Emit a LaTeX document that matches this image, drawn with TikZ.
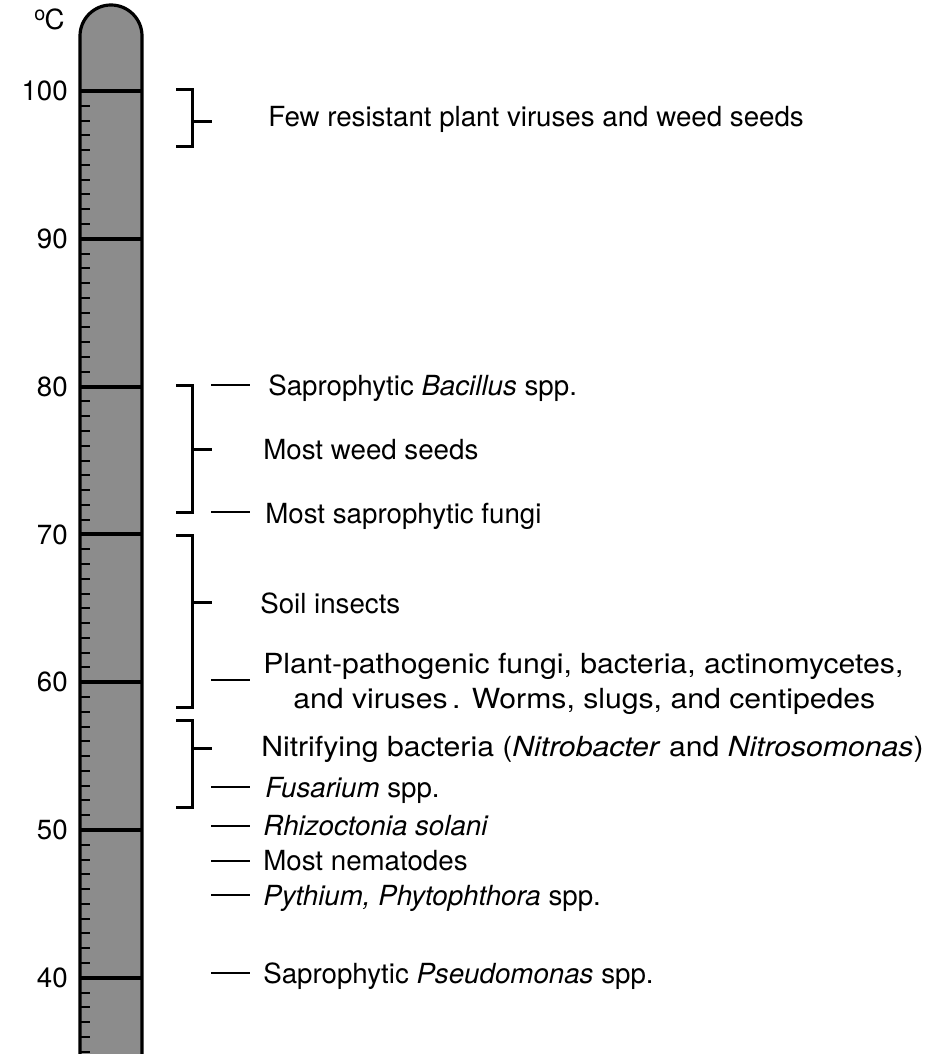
\documentclass[tikz,border=0pt]{standalone}
\usepackage{fontspec}
\setmainfont{TeX Gyre Heros}
\newfontfamily\widefont[FakeStretch=1.09]{TeX Gyre Heros}
\usetikzlibrary{positioning}

\begin{document}
\begin{tikzpicture}[x=0.25mm,y=-0.25mm,
      declare function={ty(\t)=91+(100-\t)*14.78;},
      txt/.style={anchor=base west,inner sep=0pt,font=\fontsize{19.7}{24}\selectfont},
      wtxt/.style={txt,font=\fontsize{19.7}{24}\selectfont\widefont},
      num/.style={anchor=east,inner sep=0pt,font=\fontsize{19.7}{24}\selectfont},
      brk/.style={line width=0.75mm},
      dsh/.style={line width=0.6mm}]
    \useasboundingbox (0,0) rectangle (928,1054);
    % thermometer column
    \fill[black!45] (80,1060) -- (80,36) arc (180:360:31) -- (142,1060) -- cycle;
    \draw[line width=0.8mm] (80,1060) -- (80,36) arc (180:360:31) -- (142,1060);
    \foreach \t in {35,...,99} { \draw[line width=0.5mm] (80,{ty(\t)}) -- ++(10,0); }
    \foreach \t in {40,50,...,100} {
      \draw[line width=1mm] (80,{ty(\t)}) -- (142,{ty(\t)});
      \node[num] (n\t) at (68,{ty(\t)}) {\t};
    }
    \node[txt] (unit) at (34,30) {\raisebox{6.6pt}{\fontsize{14}{14}\selectfont o}\kern-0.5pt C};
    % brackets
    \foreach \a/\b/\m in {90/147/122,385/512/449,535/707/602,720/807/748} {
      \draw[brk] (176,\a) -- (192,\a) -- (192,\b) -- (176,\b);
      \draw[brk] (192,\m) -- (212,\m);
    }
    % dashes
    \foreach \y in {385,512,680,787,826,861,895,973} { \draw[dsh] (211,\y) -- (250,\y); }
    % labels
    \node[txt] (few) at (268,127) {Few resistant plant viruses and weed seeds};
    \node[txt] (bac) at (268,395) {Saprophytic \textit{Bacillus} spp.};
    \node[txt] (weed) at (263,459) {Most weed seeds};
    \node[txt] (fungi) at (265,523) {Most saprophytic fungi};
    \node[txt] (ins) at (260,613) {Soil insects};
    \node[wtxt] (path1) at (263,673) {Plant-pathogenic fungi, bacteria, actinomycetes,};
    \node[wtxt] (path2) at (293,708) {and viruses\,. Worms, slugs, and centipedes};
    \node[wtxt] (nitr) at (261,756) {Nitrifying bacteria (\textit{Nitrobacter} and \textit{Nitrosomonas})};
    \node[txt] (fus) at (265,797) {\textit{Fusarium} spp.};
    \node[txt] (rhiz) at (263,835) {\textit{Rhizoctonia solani}};
    \node[txt] (nem) at (263,870) {Most nematodes};
    \node[txt] (pyth) at (263,905) {\textit{Pythium, Phytophthora} spp.};
    \node[txt] (pseu) at (263,983) {Saprophytic \textit{Pseudomonas} spp.};
  \end{tikzpicture}
\end{document}
